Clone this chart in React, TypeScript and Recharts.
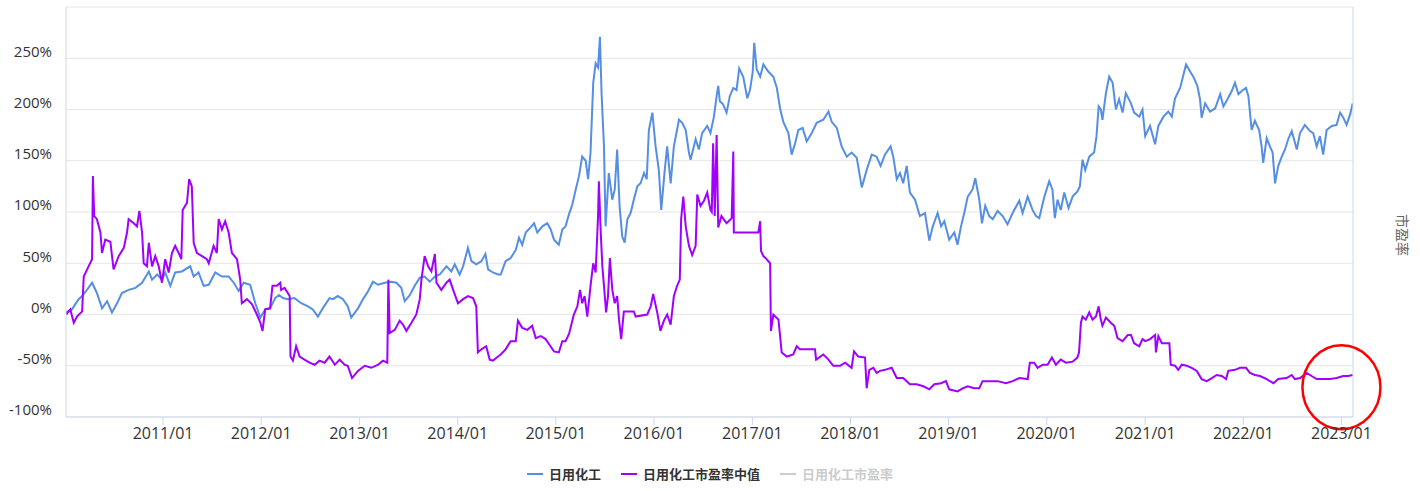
import React from "react"
import { LineChart, Line, XAxis, YAxis, CartesianGrid, ReferenceDot } from "recharts"

// 日用化工 (cumulative change, %)
const blueDates = [
  "2010-01-05", "2010-01-27", "2010-02-21", "2010-03-06", "2010-03-24", "2010-04-12", "2010-04-30", "2010-05-19", "2010-06-07", "2010-06-25", "2010-07-14", "2010-08-01", "2010-08-26", "2010-09-20", "2010-10-15", "2010-11-09", "2010-11-21", "2010-12-10", "2010-12-28",
  "2011-01-09", "2011-01-28", "2011-02-15", "2011-03-12", "2011-04-12", "2011-04-25", "2011-05-13", "2011-06-01", "2011-06-20", "2011-07-14", "2011-08-08", "2011-09-02", "2011-09-21", "2011-10-09", "2011-10-28", "2011-11-21", "2011-12-10", "2011-12-29",
  "2012-01-16", "2012-02-03", "2012-02-22", "2012-03-07", "2012-03-22", "2012-04-09", "2012-05-04", "2012-05-29", "2012-06-23", "2012-07-11", "2012-07-30", "2012-08-17", "2012-09-11", "2012-09-24", "2012-10-12", "2012-10-31", "2012-11-18", "2012-12-01", "2012-12-26",
  "2013-01-14", "2013-02-02", "2013-02-20", "2013-03-11", "2013-04-05", "2013-04-29", "2013-05-18", "2013-06-05", "2013-06-18", "2013-07-07", "2013-07-25", "2013-08-13", "2013-08-31", "2013-09-19", "2013-10-08", "2013-10-26", "2013-11-20", "2013-12-08", "2013-12-21",
  "2014-01-08", "2014-01-21", "2014-02-08", "2014-02-21", "2014-03-11", "2014-03-30", "2014-04-14", "2014-04-24", "2014-05-12", "2014-05-31", "2014-06-10", "2014-06-28", "2014-07-17", "2014-08-05", "2014-08-17", "2014-08-29", "2014-09-11", "2014-09-29", "2014-10-12", "2014-10-24", "2014-11-12", "2014-11-30", "2014-12-13", "2014-12-25",
  "2015-01-12", "2015-01-25", "2015-02-06", "2015-02-19", "2015-03-03", "2015-03-16", "2015-03-28", "2015-04-09", "2015-04-22", "2015-05-01", "2015-05-10", "2015-05-20", "2015-05-29", "2015-06-07", "2015-06-14", "2015-06-20", "2015-06-29", "2015-07-05", "2015-07-17", "2015-07-30", "2015-08-08", "2015-08-17", "2015-08-26", "2015-09-05", "2015-09-14", "2015-09-24", "2015-10-06", "2015-10-18", "2015-10-31", "2015-11-12", "2015-11-25", "2015-12-05", "2015-12-13", "2015-12-26",
  "2016-01-07", "2016-01-19", "2016-01-28", "2016-02-09", "2016-02-19", "2016-03-03", "2016-03-15", "2016-04-03", "2016-04-15", "2016-04-28", "2016-05-10", "2016-05-16", "2016-06-04", "2016-06-16", "2016-06-28", "2016-07-17", "2016-07-29", "2016-08-11", "2016-08-21", "2016-08-27", "2016-09-02", "2016-09-14", "2016-09-27", "2016-10-09", "2016-10-22", "2016-11-03", "2016-11-13", "2016-11-28", "2016-12-13", "2016-12-23",
  "2017-01-02", "2017-01-08", "2017-01-17", "2017-01-30", "2017-02-11", "2017-03-01", "2017-03-20", "2017-04-02", "2017-04-14", "2017-04-26", "2017-05-15", "2017-05-27", "2017-06-09", "2017-06-21", "2017-07-07", "2017-07-22", "2017-08-10", "2017-08-28", "2017-09-22", "2017-10-11", "2017-10-23", "2017-11-11", "2017-11-29", "2017-12-18",
  "2018-01-05", "2018-01-24", "2018-02-12", "2018-03-02", "2018-03-21", "2018-04-08", "2018-04-23", "2018-05-09", "2018-05-30", "2018-06-09", "2018-06-22", "2018-07-04", "2018-07-16", "2018-07-29", "2018-08-10", "2018-08-29", "2018-09-16", "2018-10-05", "2018-10-21", "2018-11-03", "2018-11-21", "2018-12-04", "2018-12-16",
  "2019-01-03", "2019-01-22", "2019-02-03", "2019-02-16", "2019-02-28", "2019-03-13", "2019-03-31", "2019-04-10", "2019-04-25", "2019-05-05", "2019-05-17", "2019-06-01", "2019-06-14", "2019-07-02", "2019-07-21", "2019-08-08", "2019-08-27", "2019-09-21", "2019-10-03", "2019-10-22", "2019-11-09", "2019-11-22", "2019-12-04", "2019-12-23",
  "2020-01-10", "2020-01-22", "2020-01-31", "2020-02-10", "2020-02-22", "2020-03-06", "2020-03-22", "2020-04-06", "2020-04-24", "2020-05-03", "2020-05-13", "2020-05-23", "2020-06-07", "2020-06-25", "2020-07-04", "2020-07-12", "2020-07-20", "2020-07-26", "2020-08-08", "2020-08-20", "2020-09-02", "2020-09-14", "2020-09-26", "2020-10-09", "2020-10-21", "2020-11-09", "2020-11-21", "2020-12-10", "2020-12-22",
  "2021-01-01", "2021-01-19", "2021-02-07", "2021-02-19", "2021-03-10", "2021-03-28", "2021-04-10", "2021-04-22", "2021-05-11", "2021-06-02", "2021-06-17", "2021-06-29", "2021-07-14", "2021-07-24", "2021-07-30", "2021-08-12", "2021-08-30", "2021-09-18", "2021-10-07", "2021-10-19", "2021-11-03", "2021-11-19", "2021-12-01", "2021-12-14", "2021-12-26",
  "2022-01-11", "2022-01-20", "2022-02-01", "2022-02-13", "2022-03-01", "2022-03-10", "2022-03-16", "2022-03-29", "2022-04-10", "2022-04-20", "2022-04-29", "2022-05-11", "2022-05-24", "2022-06-05", "2022-06-17", "2022-06-30", "2022-07-19", "2022-07-31", "2022-08-18", "2022-09-06", "2022-09-18", "2022-10-01", "2022-10-13", "2022-10-25", "2022-11-07", "2022-11-26", "2022-12-14", "2022-12-27",
  "2023-01-08", "2023-01-20", "2023-02-02", "2023-02-12",
]
const blueValues = [
  2, 5, 15, 18, 24, 31, 21, 6, 13, 2, 11, 21, 24, 26, 31, 42, 34, 39, 34,
  41, 28, 41, 42, 47, 37, 41, 28, 29, 41, 37, 37, 31, 23, 31, 29, 11, -3,
  5, 6, 16, 19, 16, 15, 16, 11, 8, 5, -2, 6, 16, 15, 18, 15, 8, -3, 6,
  15, 23, 32, 29, 31, 32, 31, 26, 13, 19, 28, 36, 37, 32, 37, 39, 47, 42, 49,
  39, 47, 65, 52, 49, 52, 59, 44, 41, 39, 39, 52, 55, 63, 75, 68, 80, 85, 89, 80, 86, 89, 83, 73,
  68, 83, 86, 98, 107, 122, 135, 154, 150, 132, 158, 226, 245, 241, 271, 216, 164, 86, 138, 112, 122, 161, 106, 76, 70, 93, 99, 112, 125, 128, 138, 132, 180, 197,
  164, 141, 102, 138, 164, 128, 164, 190, 187, 180, 158, 151, 171, 161, 177, 184, 177, 193, 213, 223, 208, 205, 197, 213, 221, 219, 240, 232, 211, 219,
  236, 265, 239, 232, 244, 237, 232, 221, 201, 188, 177, 156, 167, 180, 182, 169, 177, 187, 190, 198, 188, 182, 164, 154,
  158, 153, 124, 141, 156, 154, 145, 156, 164, 154, 132, 138, 128, 145, 119, 112, 96, 99, 72, 86, 99, 86, 91,
  73, 80, 68, 86, 99, 115, 122, 133, 112, 89, 106, 96, 93, 101, 96, 88, 99, 111, 99, 115, 102, 96, 94, 115,
  130, 122, 94, 112, 102, 119, 104, 115, 120, 125, 151, 141, 154, 158, 174, 203, 200, 190, 216, 232, 226, 200, 210, 197, 216, 206, 197, 193, 200,
  174, 184, 166, 184, 193, 198, 193, 211, 221, 244, 237, 232, 223, 210, 192, 206, 198, 201, 215, 203, 210, 218, 226, 215, 218,
  221, 213, 180, 189, 180, 164, 148, 172, 164, 158, 128, 145, 154, 161, 171, 179, 161, 177, 185, 179, 177, 164, 174, 156, 180, 184, 185, 197,
  192, 185, 195, 206,
]

// 日用化工市盈率中值 (%)
const purpleDates = [
  "2010-01-05", "2010-01-21", "2010-02-03", "2010-02-15", "2010-03-06", "2010-03-12", "2010-03-30", "2010-04-12", "2010-04-15", "2010-04-20", "2010-04-30", "2010-05-13", "2010-05-19", "2010-05-31", "2010-06-19", "2010-07-01", "2010-07-20", "2010-08-08", "2010-08-20", "2010-08-26", "2010-09-14", "2010-09-26", "2010-10-05", "2010-10-15", "2010-10-21", "2010-11-02", "2010-11-09", "2010-11-21", "2010-12-03", "2010-12-16", "2010-12-28",
  "2011-01-09", "2011-01-22", "2011-02-03", "2011-02-15", "2011-02-28", "2011-03-10", "2011-03-15", "2011-03-31", "2011-04-08", "2011-04-18", "2011-04-25", "2011-05-07", "2011-05-26", "2011-06-13", "2011-06-20", "2011-07-08", "2011-07-20", "2011-07-27", "2011-08-08", "2011-08-20", "2011-09-02", "2011-09-14", "2011-10-03", "2011-10-15", "2011-10-21", "2011-11-09", "2011-11-28", "2011-12-16", "2011-12-29",
  "2012-01-06", "2012-01-16", "2012-02-03", "2012-02-12", "2012-02-28", "2012-03-12", "2012-03-15", "2012-03-28", "2012-04-09", "2012-04-16", "2012-04-19", "2012-04-28", "2012-05-10", "2012-05-23", "2012-06-10", "2012-06-29", "2012-07-18", "2012-08-05", "2012-08-24", "2012-09-11", "2012-10-01", "2012-10-19", "2012-11-06", "2012-11-18", "2012-12-04", "2012-12-26",
  "2013-01-20", "2013-02-14", "2013-03-11", "2013-03-29", "2013-04-14", "2013-04-18", "2013-04-23", "2013-05-12", "2013-05-30", "2013-06-12", "2013-06-24", "2013-07-13", "2013-07-31", "2013-08-13", "2013-08-19", "2013-08-31", "2013-09-13", "2013-09-25", "2013-10-08", "2013-10-14", "2013-11-01", "2013-11-20", "2013-12-02", "2013-12-15",
  "2014-01-02", "2014-01-21", "2014-02-08", "2014-02-27", "2014-03-11", "2014-03-17", "2014-03-30", "2014-04-17", "2014-04-30", "2014-05-12", "2014-05-31", "2014-06-10", "2014-06-28", "2014-07-17", "2014-08-05", "2014-08-13", "2014-08-29", "2014-09-17", "2014-10-05", "2014-10-18", "2014-11-06", "2014-11-24", "2014-12-07", "2014-12-25",
  "2015-01-12", "2015-01-25", "2015-02-06", "2015-02-19", "2015-03-09", "2015-03-22", "2015-04-01", "2015-04-09", "2015-04-18", "2015-04-28", "2015-05-10", "2015-05-20", "2015-05-29", "2015-06-07", "2015-06-10", "2015-06-17", "2015-06-23", "2015-06-29", "2015-07-07", "2015-07-14", "2015-07-21", "2015-07-30", "2015-08-08", "2015-08-17", "2015-08-24", "2015-09-01", "2015-09-11", "2015-10-18", "2015-10-25", "2015-12-07", "2015-12-20", "2015-12-29",
  "2016-01-13", "2016-01-25", "2016-02-07", "2016-02-19", "2016-03-03", "2016-03-15", "2016-03-27", "2016-04-06", "2016-04-11", "2016-04-19", "2016-04-28", "2016-05-10", "2016-05-22", "2016-06-04", "2016-06-10", "2016-06-22", "2016-07-05", "2016-07-17", "2016-07-29", "2016-08-03", "2016-08-08", "2016-08-14", "2016-08-21", "2016-08-27", "2016-09-08", "2016-09-27", "2016-10-16", "2016-10-22", "2016-10-24",
  "2017-01-23", "2017-01-30", "2017-02-02", "2017-02-11", "2017-02-23", "2017-03-08", "2017-03-11", "2017-03-20", "2017-04-08", "2017-04-20", "2017-05-09", "2017-06-02", "2017-06-15", "2017-06-27", "2017-08-22", "2017-08-26", "2017-09-22", "2017-10-11", "2017-10-29", "2017-11-23", "2017-12-12",
  "2018-01-05", "2018-01-14", "2018-01-30", "2018-02-24", "2018-03-02", "2018-03-12", "2018-03-27", "2018-04-08", "2018-04-21", "2018-05-09", "2018-06-03", "2018-06-22", "2018-07-16", "2018-08-10", "2018-09-04", "2018-09-29", "2018-10-21", "2018-11-09", "2018-12-04", "2018-12-22",
  "2019-01-03", "2019-02-03", "2019-02-22", "2019-03-13", "2019-04-06", "2019-04-25", "2019-05-07", "2019-06-01", "2019-07-02", "2019-08-02", "2019-08-27", "2019-09-21", "2019-10-22", "2019-10-30", "2019-11-15", "2019-11-28", "2019-12-17",
  "2020-01-04", "2020-01-20", "2020-02-04", "2020-02-22", "2020-03-12", "2020-04-06", "2020-04-24", "2020-04-30", "2020-05-07", "2020-05-13", "2020-05-25", "2020-06-07", "2020-06-19", "2020-07-02", "2020-07-12", "2020-07-20", "2020-07-26", "2020-08-08", "2020-08-26", "2020-09-08", "2020-09-20", "2020-10-09", "2020-10-28", "2020-11-09", "2020-11-21", "2020-12-10", "2020-12-22",
  "2021-01-01", "2021-01-19", "2021-02-07", "2021-02-10", "2021-02-19", "2021-03-04", "2021-04-01", "2021-04-06", "2021-04-22", "2021-05-04", "2021-05-17", "2021-06-05", "2021-06-23", "2021-07-12", "2021-07-30", "2021-08-18", "2021-09-06", "2021-09-24", "2021-10-13", "2021-10-29", "2021-11-06", "2021-12-01", "2021-12-20",
  "2022-01-11", "2022-01-26", "2022-02-13", "2022-03-04", "2022-03-29", "2022-04-23", "2022-05-11", "2022-06-11", "2022-06-30", "2022-07-12", "2022-07-31", "2022-08-25", "2022-09-12", "2022-10-01", "2022-10-25", "2022-11-19", "2022-12-14",
  "2023-01-08", "2023-01-26", "2023-02-12",
]
const purpleValues = [
  0, 5, -8, -2, 3, 37, 47, 54, 135, 96, 93, 80, 60, 73, 71, 44, 57, 65, 80, 93, 89, 86, 101, 80, 50, 47, 70, 47, 57, 47, 31,
  54, 41, 60, 67, 60, 54, 102, 109, 132, 125, 70, 60, 57, 54, 50, 67, 60, 93, 83, 91, 80, 60, 54, 34, 11, 15, 10, 0, -8,
  -16, 5, 6, 28, 28, 31, 24, 26, 21, 18, -41, -45, -31, -41, -44, -47, -49, -45, -47, -41, -49, -44, -49, -50, -62, -55,
  -50, -52, -49, -45, -47, 34, -18, -15, -6, -10, -16, -8, 0, 15, 34, 57, 47, 42, 59, 31, 24, 31, 34, 24,
  11, 15, 18, 16, 8, -37, -34, -31, -44, -45, -41, -39, -34, -26, -26, -6, -13, -15, -11, -23, -21, -24, -29, -36,
  -37, -26, -26, -19, 0, 8, 24, 11, 18, -2, 28, 50, 41, 96, 130, 80, 47, 28, 2, 18, 55, 24, 11, 18, -5, -24, 3, 3, -2, 0, 8, 20,
  2, -16, -6, 0, -10, 18, 28, 34, 93, 115, 86, 67, 58, 67, 117, 106, 111, 119, 102, 100, 167, 96, 175, 85, 96, 89, 94, 159, 80,
  80, 91, 62, 57, 54, 50, -16, 0, -5, -37, -41, -39, -31, -34, -34, -44, -39, -44, -50, -50, -47,
  -52, -36, -41, -42, -72, -54, -52, -57, -55, -54, -52, -62, -62, -68, -68, -70, -73, -68, -67, -65,
  -73, -75, -72, -70, -72, -72, -65, -65, -65, -67, -65, -62, -63, -47, -47, -52, -49,
  -49, -42, -49, -44, -47, -46, -42, -37, -8, -2, -5, 2, -5, -2, 8, -5, -11, -3, -8, -11, -23, -26, -20, -20, -28, -31, -24,
  -26, -24, -20, -37, -21, -28, -28, -49, -50, -54, -49, -50, -52, -55, -63, -65, -62, -59, -60, -63, -55, -54, -52,
  -52, -57, -59, -60, -63, -67, -63, -62, -59, -63, -62, -57, -60, -63, -63, -63, -62,
  -60, -60, -59,
]

const yTicks = [-100, -50, 0, 50, 100, 150, 200, 250, 300]
const tickYears = [2011, 2012, 2013, 2014, 2015, 2016, 2017, 2018, 2019, 2020, 2021, 2022, 2023]

const legendItems = [
  { name: "日用化工", color: "#558ee3", hidden: false },
  { name: "日用化工市盈率中值", color: "#9f00ff", hidden: false },
  { name: "日用化工市盈率", color: "#cccccc", hidden: true },
]

// red ring drawn around the latest reading
const markDate = "2023-01-01"
const markValue = -71

const toSeries = (dates: string[], values: number[]) =>
  dates.map((d, i) => ({ t: Date.parse(d), v: values[i] }))

const blueData = toSeries(blueDates, blueValues)
const purpleData = toSeries(purpleDates, purpleValues)
const xTicks = tickYears.map((y) => Date.UTC(y, 0, 1))
const xDomain = [Date.UTC(2010, 0, 5), Date.UTC(2023, 1, 13)]

const axisColor = "#ccd6eb"
const tickFont = { fontFamily: "'Open Sans', sans-serif", fill: "#333" }

export default function App() {
  return (
    <div style={{ position: "absolute", left: 0, top: 0, width: 1420, height: 491, background: "#fff" }}>
      <LineChart width={1420} height={491} margin={{ top: 7, right: 0, bottom: 44, left: 0 }}>
        <CartesianGrid vertical={false} stroke="#e6e6e6" />
        <XAxis
          dataKey="t"
          type="number"
          domain={xDomain}
          allowDataOverflow
          ticks={xTicks}
          interval={0}
          height={30}
          tickFormatter={(t) => `${new Date(t).getUTCFullYear()}/01`}
          axisLine={{ stroke: axisColor }}
          tickLine={{ stroke: axisColor }}
          tickSize={8}
          tickMargin={3}
          tick={{ ...tickFont, fontSize: 16 }}
        />
        <YAxis
          domain={[-100, 300]}
          ticks={yTicks}
          interval={0}
          allowDataOverflow
          width={66}
          tickFormatter={(v) => (v === 300 ? "" : `${v}%`)}
          axisLine={{ stroke: axisColor }}
          tickLine={false}
          tickSize={0}
          tickMargin={14}
          tick={{ ...tickFont, fontSize: 15, dy: -7 }}
        />
        <YAxis
          yAxisId="right"
          orientation="right"
          width={67}
          axisLine={{ stroke: axisColor }}
          tick={false}
          tickLine={false}
          label={{
            value: "市盈率",
            angle: 90,
            position: "center",
            dx: 15,
            dy: 23,
            fill: "#666",
            fontSize: 14,
            fontFamily: "'Noto Sans CJK SC', sans-serif",
          }}
        />
        <Line
          data={blueData}
          dataKey="v"
          name="日用化工"
          type="linear"
          stroke="#558ee3"
          strokeWidth={2}
          dot={false}
          activeDot={false}
          isAnimationActive={false}
        />
        <Line
          data={purpleData}
          dataKey="v"
          name="日用化工市盈率中值"
          type="linear"
          stroke="#9f00ff"
          strokeWidth={2}
          dot={false}
          activeDot={false}
          isAnimationActive={false}
        />
        <ReferenceDot
          x={Date.parse(markDate)}
          y={markValue}
          ifOverflow="visible"
          shape={(p: any) => (
            <ellipse cx={p.cx} cy={p.cy} rx={39} ry={42} fill="none" stroke="#ff0000" strokeWidth={2.5} />
          )}
        />
      </LineChart>
      <div
        style={{
          position: "absolute",
          left: 0,
          top: 464,
          width: 1420,
          height: 20,
          display: "flex",
          justifyContent: "center",
          alignItems: "center",
          gap: 20,
          fontFamily: "'Noto Sans CJK SC', sans-serif",
          fontSize: 13,
          fontWeight: "bold",
        }}
      >
        {legendItems.map((it) => (
          <div key={it.name} style={{ display: "flex", alignItems: "center" }}>
            <span style={{ width: 16, height: 2, background: it.hidden ? "#cccccc" : it.color, marginRight: 6 }} />
            <span style={{ color: it.hidden ? "#cccccc" : "#333", lineHeight: "20px" }}>{it.name}</span>
          </div>
        ))}
      </div>
    </div>
  )
}
